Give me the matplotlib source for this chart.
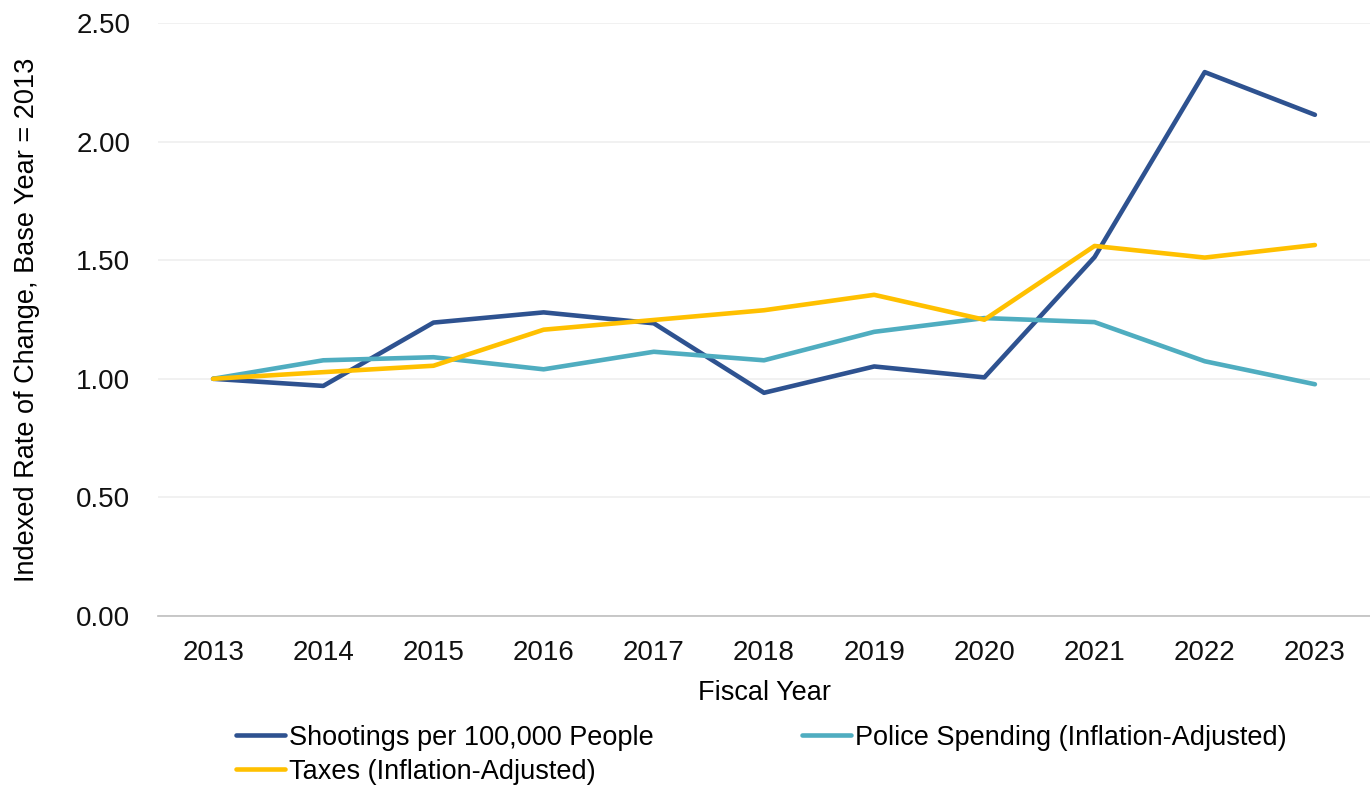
import matplotlib
matplotlib.use("Agg")
import matplotlib.pyplot as plt

plt.rcParams['font.family'] = ['Liberation Sans', 'DejaVu Sans']

years = ['2013', '2014', '2015', '2016', '2017', '2018', '2019', '2020', '2021', '2022', '2023']
shootings = [1.00, 0.97, 1.237, 1.28, 1.234, 0.941, 1.052, 1.006, 1.513, 2.293, 2.113]
police = [1.00, 1.078, 1.091, 1.04, 1.114, 1.078, 1.198, 1.256, 1.239, 1.074, 0.977]
taxes = [1.00, 1.028, 1.055, 1.207, 1.248, 1.289, 1.354, 1.249, 1.56, 1.511, 1.564]

fig = plt.figure(figsize=(13.7, 7.86), dpi=100)
ax = fig.add_axes([158 / 1370, 170 / 786, 1212 / 1370, 593 / 786])

x = range(len(years))
l1, = ax.plot(x, shootings, color='#2E5290', lw=3.3, label='Shootings per 100,000 People', solid_capstyle='round')
l2, = ax.plot(x, police, color='#4FADC0', lw=3.3, label='Police Spending (Inflation-Adjusted)', solid_capstyle='round')
l3, = ax.plot(x, taxes, color='#FFC000', lw=3.3, label='Taxes (Inflation-Adjusted)', solid_capstyle='round')

ax.set_xlim(-0.5, len(years) - 0.5)
ax.set_ylim(0, 2.5)
ax.set_xticks(list(x))
ax.set_xticklabels(years)
ax.set_yticks([0, 0.5, 1.0, 1.5, 2.0, 2.5])
ax.set_yticklabels(['0.00', '0.50', '1.00', '1.50', '2.00', '2.50'])
ax.tick_params(axis='both', length=0, labelsize=20, colors='#111111')
ax.tick_params(axis='x', pad=17.5)
ax.tick_params(axis='y', pad=20)
ax.grid(axis='y', color='#EFEFEF', lw=1.2)
ax.set_axisbelow(True)
for side in ['top', 'right', 'left']:
    ax.spines[side].set_visible(False)
ax.spines['bottom'].set_color('#BFBFBF')
ax.spines['bottom'].set_linewidth(1.2)

ax.set_xlabel('Fiscal Year', fontsize=19.5, labelpad=9.5)
ax.set_ylabel('Indexed Rate of Change, Base Year = 2013', fontsize=19.5, labelpad=26)

# column-first fill: shootings & taxes in col 1, police in col 2
fig.legend([l1, l3, l2], [l1.get_label(), l3.get_label(), l2.get_label()],
           loc='upper left', bbox_to_anchor=(225 / 1370, 1 - 714 / 786), ncol=2, frameon=False,
           fontsize=19.5, handlelength=1.8, handletextpad=0.15, columnspacing=5.5,
           labelspacing=0.3, borderaxespad=0)

fig.savefig('out.png', dpi=100)
